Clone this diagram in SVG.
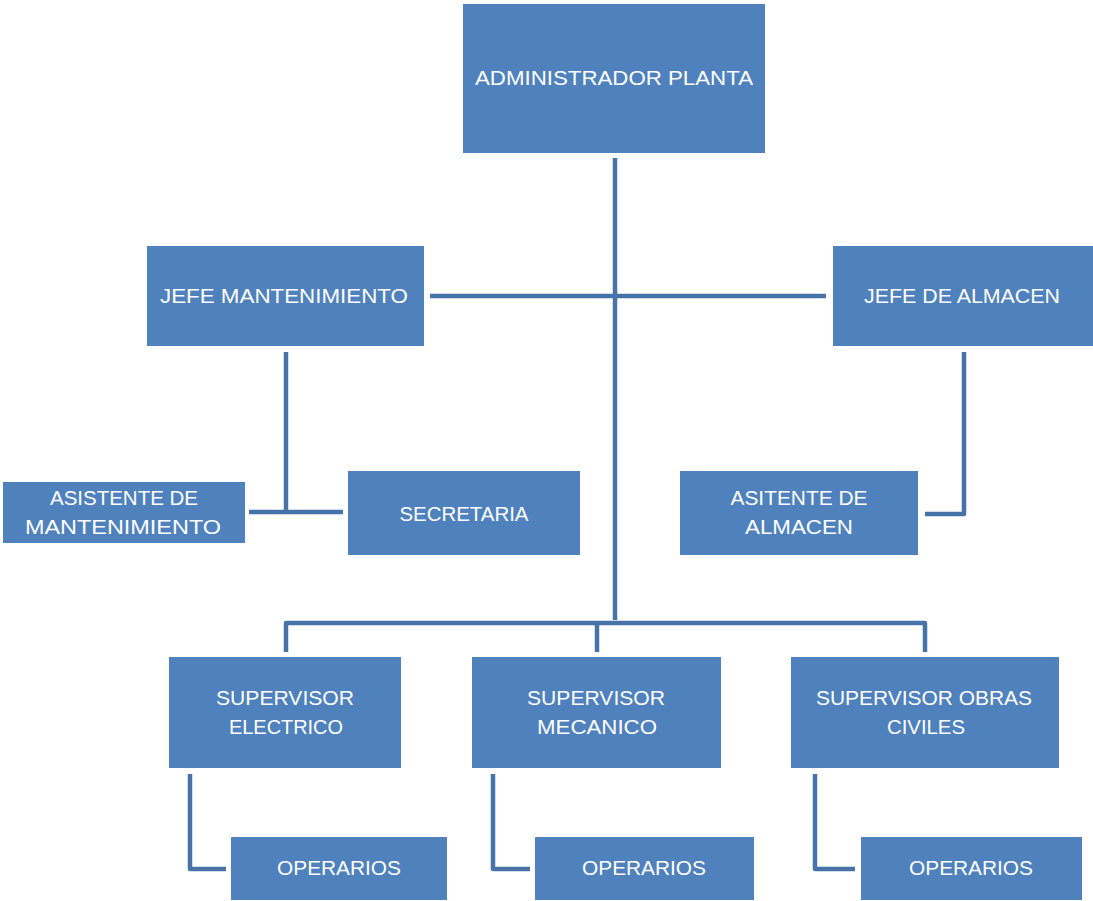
<svg xmlns="http://www.w3.org/2000/svg" width="1093" height="901" viewBox="0 0 1093 901">
<style>
.box{fill:#4F81BD;}
.t{font-family:"Liberation Sans",Arial,sans-serif;font-size:21px;fill:#FFFFFF;text-anchor:middle;}
.c{fill:none;stroke:#4873A8;stroke-width:4.5;stroke-linejoin:round;}
</style>
<rect width="1093" height="901" fill="#FFFFFF"/>
<g id="connectors">
<path class="c" d="M615 158 V620"/>
<path class="c" d="M430 296 H826"/>
<path class="c" d="M286 352 V512"/>
<path class="c" d="M249 512 H343"/>
<path class="c" d="M964 352 V514 H925"/>
<path class="c" d="M286 652 V623 H925 V652"/>
<path class="c" d="M597 623 V652"/>
<path class="c" d="M190 774 V869 H226"/>
<path class="c" d="M493 774 V869 H530"/>
<path class="c" d="M815 774 V869 H855"/>
</g>
<g id="administrador">
<rect class="box" x="463" y="4" width="302" height="149"/>
<text class="t" x="614" y="85" textLength="278" lengthAdjust="spacingAndGlyphs">ADMINISTRADOR PLANTA</text>
</g>
<g id="jefe-mantenimiento">
<rect class="box" x="147" y="246" width="277" height="100"/>
<text class="t" x="284" y="303" textLength="248" lengthAdjust="spacingAndGlyphs">JEFE MANTENIMIENTO</text>
</g>
<g id="jefe-almacen">
<rect class="box" x="833" y="246" width="260" height="100"/>
<text class="t" x="962" y="303" textLength="196" lengthAdjust="spacingAndGlyphs">JEFE DE ALMACEN</text>
</g>
<g id="asistente-mantenimiento">
<rect class="box" x="3" y="482" width="242" height="61"/>
<text class="t" x="124" y="505" textLength="148" lengthAdjust="spacingAndGlyphs">ASISTENTE DE</text>
<text class="t" x="123" y="534" textLength="196" lengthAdjust="spacingAndGlyphs">MANTENIMIENTO</text>
</g>
<g id="secretaria">
<rect class="box" x="348" y="471" width="232" height="84"/>
<text class="t" x="464" y="521" textLength="129" lengthAdjust="spacingAndGlyphs">SECRETARIA</text>
</g>
<g id="asistente-almacen">
<rect class="box" x="680" y="471" width="238" height="84"/>
<text class="t" x="799" y="505" textLength="137" lengthAdjust="spacingAndGlyphs">ASITENTE DE</text>
<text class="t" x="799" y="534" textLength="108" lengthAdjust="spacingAndGlyphs">ALMACEN</text>
</g>
<g id="supervisor-electrico">
<rect class="box" x="169" y="657" width="232" height="111"/>
<text class="t" x="285" y="705" textLength="138" lengthAdjust="spacingAndGlyphs">SUPERVISOR</text>
<text class="t" x="286" y="734" textLength="114" lengthAdjust="spacingAndGlyphs">ELECTRICO</text>
</g>
<g id="supervisor-mecanico">
<rect class="box" x="472" y="657" width="249" height="111"/>
<text class="t" x="596" y="705" textLength="138" lengthAdjust="spacingAndGlyphs">SUPERVISOR</text>
<text class="t" x="597" y="734" textLength="120" lengthAdjust="spacingAndGlyphs">MECANICO</text>
</g>
<g id="supervisor-obras">
<rect class="box" x="791" y="657" width="268" height="111"/>
<text class="t" x="924" y="705" textLength="216" lengthAdjust="spacingAndGlyphs">SUPERVISOR OBRAS</text>
<text class="t" x="926" y="734" textLength="78" lengthAdjust="spacingAndGlyphs">CIVILES</text>
</g>
<g id="operarios-1">
<rect class="box" x="231" y="837" width="216" height="63"/>
<text class="t" x="339" y="875" textLength="124" lengthAdjust="spacingAndGlyphs">OPERARIOS</text>
</g>
<g id="operarios-2">
<rect class="box" x="535" y="837" width="219" height="63"/>
<text class="t" x="644" y="875" textLength="124" lengthAdjust="spacingAndGlyphs">OPERARIOS</text>
</g>
<g id="operarios-3">
<rect class="box" x="861" y="837" width="221" height="63"/>
<text class="t" x="971" y="875" textLength="124" lengthAdjust="spacingAndGlyphs">OPERARIOS</text>
</g>
</svg>
